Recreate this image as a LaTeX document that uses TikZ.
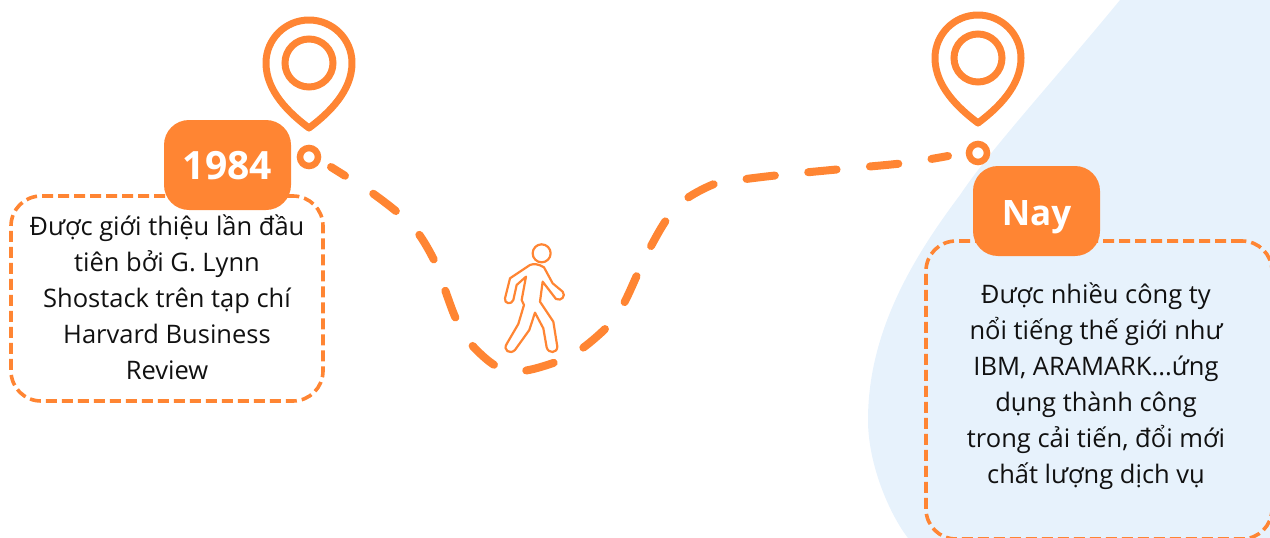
\documentclass[tikz,border=0pt]{standalone}
\usepackage{fontspec}
\setmainfont{Open Sans}
\definecolor{trailorange}{HTML}{FF8533}
\definecolor{blobblue}{HTML}{E7F2FC}
\definecolor{notetext}{HTML}{111111}
\tikzset{
   badge/.style={fill=trailorange, rounded corners=25pt, minimum width=127pt, minimum height=90pt, inner sep=0pt, text=white, text height=28pt, text depth=0pt, font=\fontsize{35}{40}\selectfont\bfseries},
   notebox/.style={draw=trailorange, line width=3.6pt, dash pattern=on 11pt off 5pt, rounded corners=30pt, inner sep=0pt},
   note/.style={align=center, inner sep=0pt, text=notetext, font=\fontsize{25.5}{36}\selectfont},
   stop/.style={circle, draw=trailorange, line width=6.5pt, minimum size=18pt, inner sep=0pt},
   trail/.style={trailorange, line width=8pt, line cap=round, dash pattern=on 28.5pt off 33.5pt, dash phase=12pt},
   pin/.pic={
      \draw[trailorange, line width=7pt, line join=round] (-43,0) arc[start angle=180, end angle=360, radius=43] .. controls (43,28) and (20,50) .. (0,65) .. controls (-20,50) and (-43,28) .. (-43,0) -- cycle;
      \draw[trailorange, line width=7pt] (0,0) circle[radius=24];
   }
}
\begin{document}
\begin{tikzpicture}[x=1pt, y=-1pt]
   \useasboundingbox (0,0) rectangle (1270,538);
   \clip (0,0) rectangle (1270,538);

   \fill[blobblue] (1120,0) .. controls (1050,85) and (990,150) .. (960,195) .. controls (915,255) and (868,330) .. (868,420) .. controls (868,465) and (890,515) .. (908,538) -- (1270,538) -- (1270,0) -- cycle;

   \node[stop] (stop1984) at (309,157) {};
   \node[stop] (stopNay) at (978,153) {};
   \coordinate[shift={(22,10)}] (trailstart) at (stop1984);
   \coordinate[shift={(-30,3)}] (trailend) at (stopNay);

   \draw[trail] plot[smooth, tension=0.55] coordinates {(trailstart) (347,177) (368,190) (397,212) (418,233) (435,262) (444,287) (456,319) (470,343) (496,366) (522,371) (556,362) (580,350) (607,327) (623,305) (638,273) (650,248) (667,219) (686,199) (717,183) (746,179) (780,175) (842,169) (905,163) (trailend)};

   \pic at (309,63) {pin};
   \pic at (978,58) {pin};

   \begin{scope}[shift={(420,140)}, scale=0.3333, trailorange, line width=2.2pt, line join=round]
      \node[circle, draw=trailorange, line width=2.2pt, minimum size=18pt, inner sep=0pt] (head) at (365,340) {};
      \draw (330,375) .. controls (340,371) and (355,371) .. (372,382) -- (398,430) -- (428,455) .. controls (438,467) and (425,485) .. (408,477) -- (368,425) -- (360,485) -- (400,545) -- (412,620) .. controls (412,640) and (385,642) .. (380,622) -- (370,565) -- (345,518) -- (328,570) -- (285,630) .. controls (270,645) and (248,630) .. (260,612) -- (295,552) -- (312,495) -- (305,480) -- (318,410) -- (290,435) -- (280,480) .. controls (275,495) and (252,492) .. (255,475) -- (270,415) -- cycle;
   \end{scope}

   \node[notebox, minimum width=312pt, minimum height=205pt] (box1984) at (167,298.5) {};
   \node[notebox, minimum width=346pt, minimum height=298pt] (boxNay) at (1099,390) {};

   \node[note] (text1984) at (167,297) {Được giới thiệu lần đầu\\tiên bởi G. Lynn\\Shostack trên tạp chí\\Harvard Business\\Review};
   \node[note] (textNay) at (1096,386) {Được nhiều công ty\\nổi tiếng thế giới như\\IBM, ARAMARK...ứng\\dụng thành công\\trong cải tiến, đổi mới\\chất lượng dịch vụ};

   \node[badge, font=\fontsize{39}{40}\selectfont\bfseries] (badge1984) at (227.5,165) {1984};
   \node[badge] (badgeNay) at (1036.5,211) {Nay};
\end{tikzpicture}
\end{document}
